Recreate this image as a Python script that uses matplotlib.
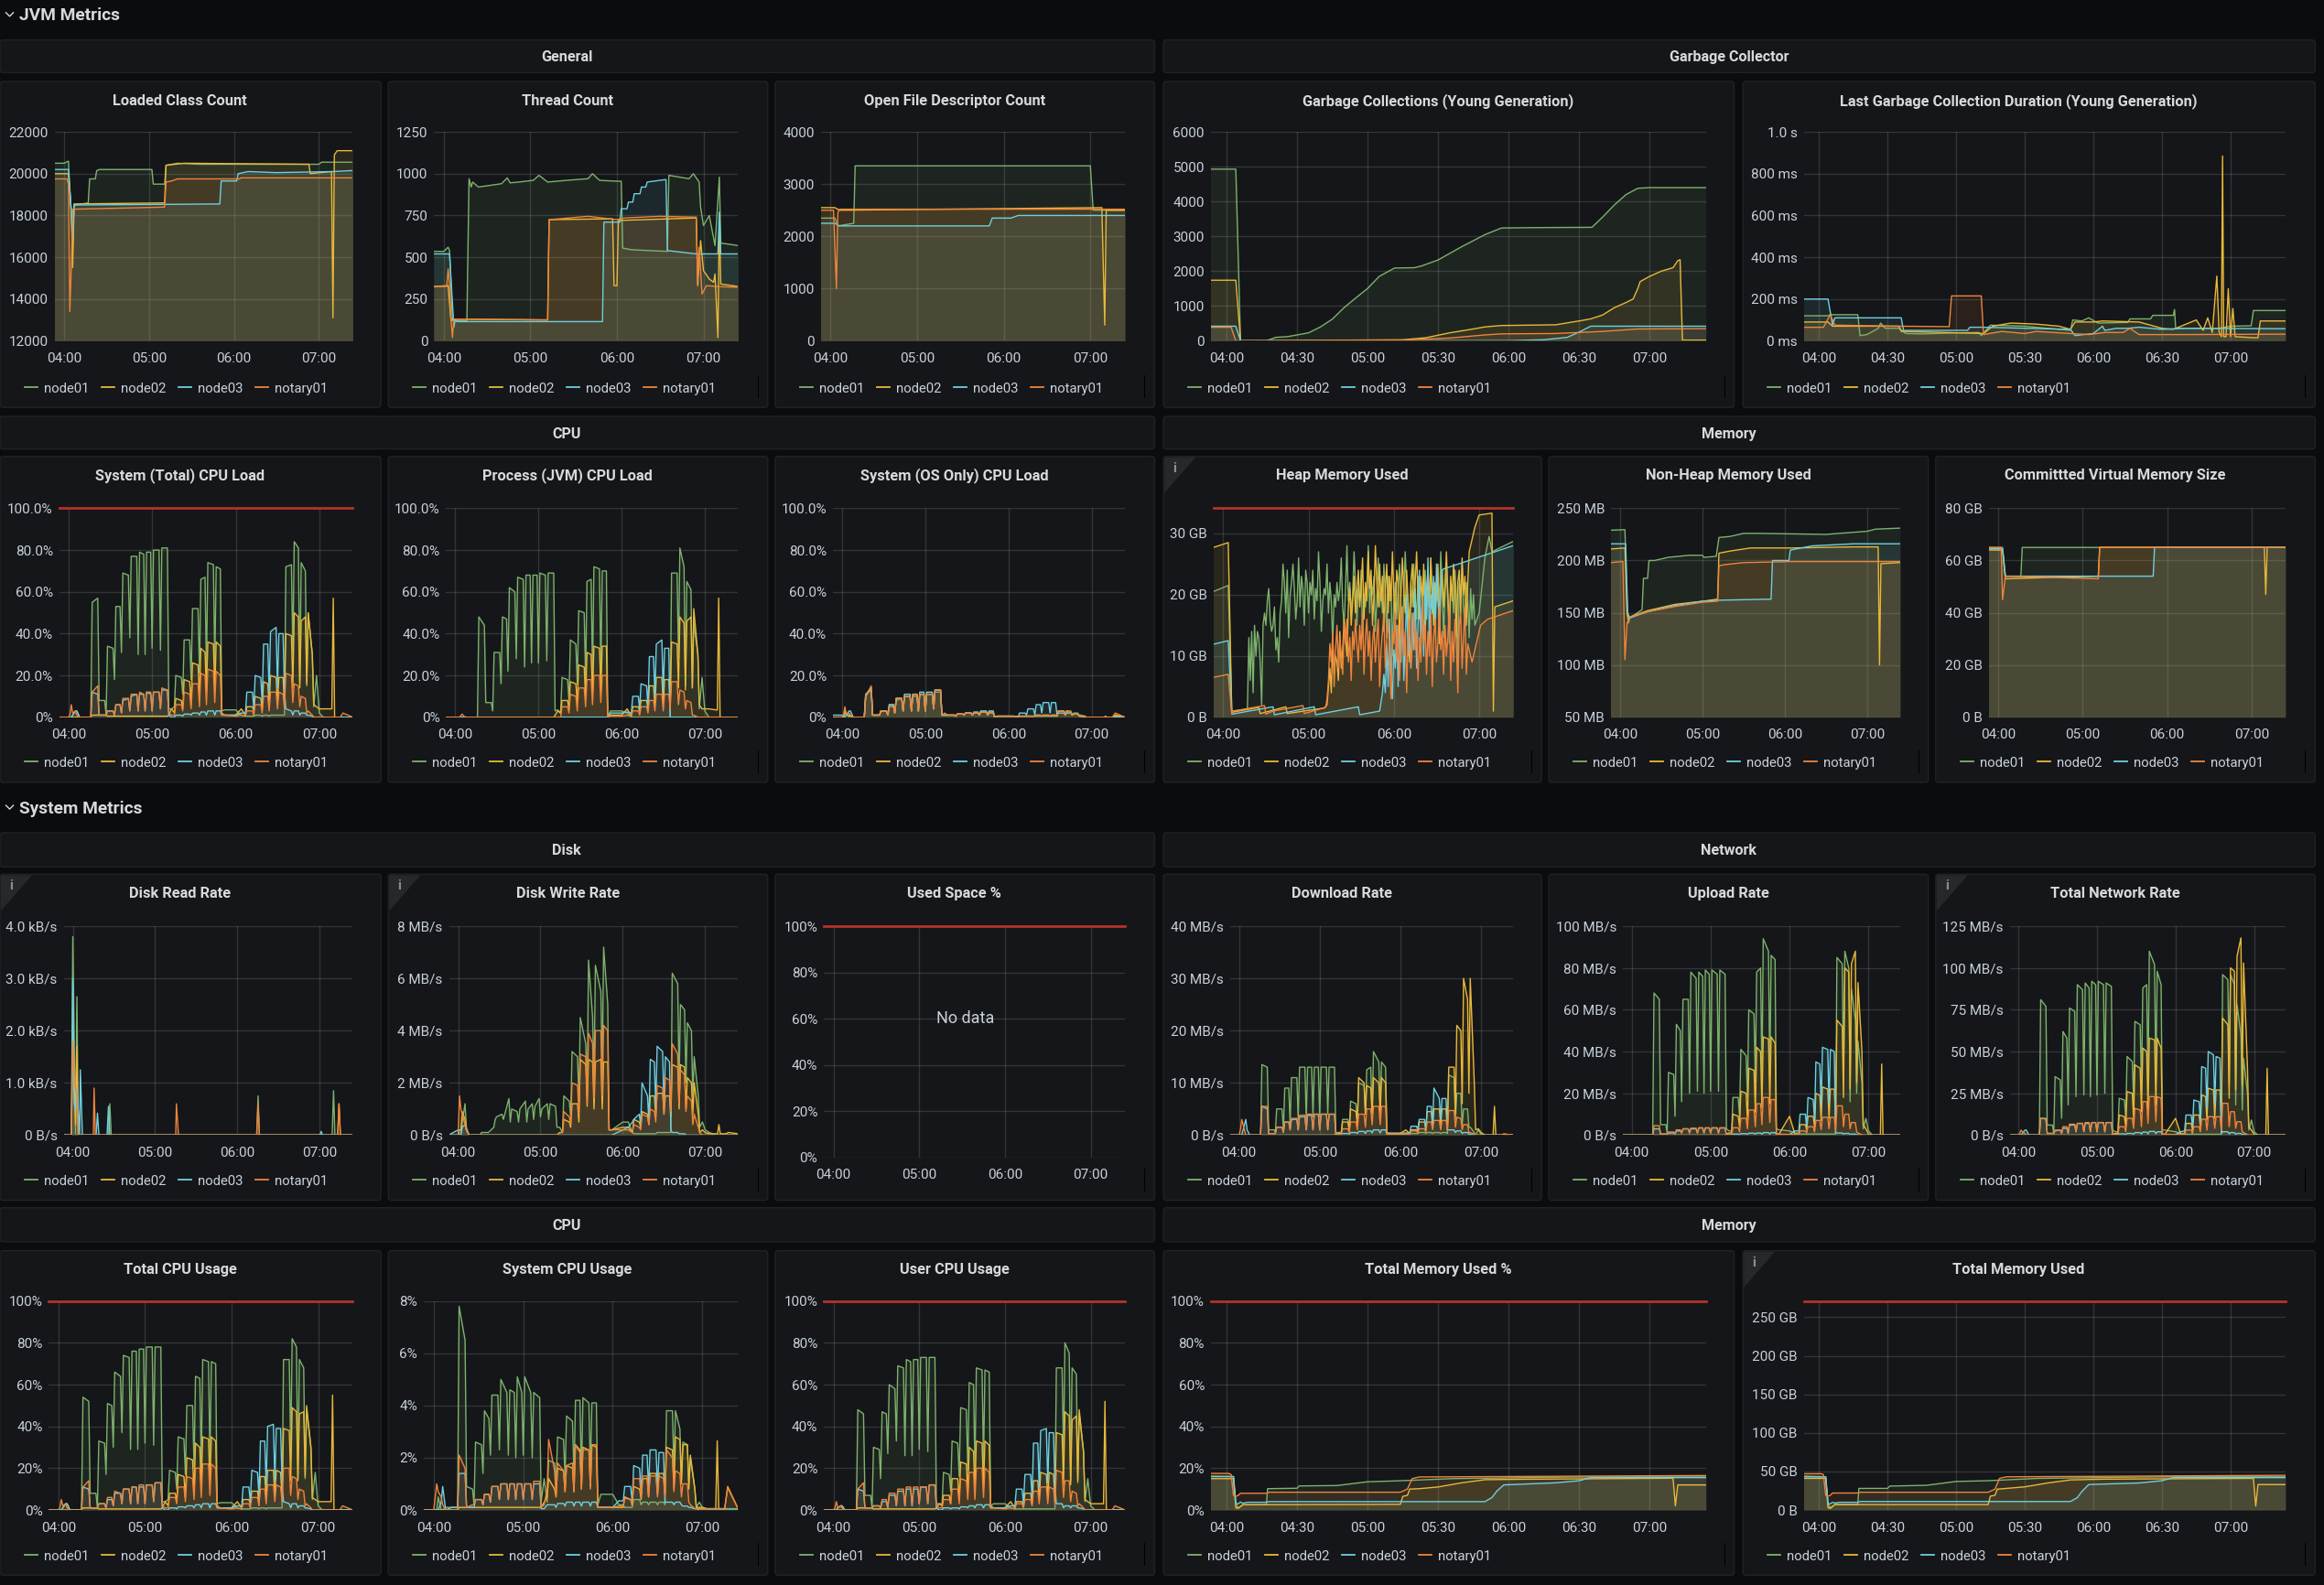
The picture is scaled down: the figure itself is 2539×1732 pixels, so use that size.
import matplotlib
matplotlib.use("Agg")
import matplotlib.pyplot as plt
from matplotlib.patches import FancyBboxPatch, Polygon

plt.rcParams['font.family'] = ['Roboto', 'DejaVu Sans']

W, H = 2539, 1732
S = W / 1568.0   # layout below was measured on a 1568 wide view

GREEN, YELLOW, BLUE, ORANGE = '#7eb26d', '#eab839', '#6ed0e0', '#ef843c'
names = ['node01', 'node02', 'node03', 'notary01']
colors = [GREEN, YELLOW, BLUE, ORANGE]

# minutes after 04:00, common to all panels driven by the load test
load_t = [-7, 0, 1, 2, 3, 5, 6, 8, 12, 16,
          17, 21, 22, 26, 27,
          28, 32, 33, 34, 37, 38, 39, 43, 44, 45, 49, 50, 51, 54, 55, 56, 59, 60, 61, 65, 66, 67, 71, 72,
          74, 76,
          77, 81, 82, 83, 87, 88, 89, 93, 94, 95, 98, 99, 100, 104, 105, 106, 109, 110,
          112, 120, 124, 127,
          128, 132, 133, 134, 138, 139, 140, 143, 144, 145, 149, 150, 151, 154, 155, 156, 160, 161, 162, 165, 166, 167, 170, 171, 172, 175, 176,
          178, 180, 183, 188, 189, 190, 191, 195, 197, 204]

# System (Total) CPU Load
sysload_node01 = [0, 0, 0, 0, 1, 3, 3, 0, 0, 0,
                  55, 57, 8, 8, 1,
                  34, 33, 18, 53, 53, 31, 69, 68, 38, 77, 77, 30, 79, 78, 30, 79, 79, 33, 80, 80, 32, 81, 81, 4,
                  4, 5,
                  20, 19, 11, 37, 37, 18, 52, 52, 21, 66, 67, 22, 74, 73, 25, 72, 71, 3,
                  3.5, 3.5, 1, 0.5,
                  0.5, 0.5, 0.5, 1, 1, 0.5, 1, 1, 0.5, 1, 1, 1, 1, 1, 1, 72, 73, 30, 84, 81, 16, 74, 70, 15, 50, 30, 5,
                  20, 2, 0, 0, 0, 0, 0, 0, 0, 0]
sysload_node02 = [0, 0, 0, 0, 0, 0, 0, 0, 0, 0,
                  1, 1, 1, 1, 1,
                  0.5, 0.5, 0.5, 0.5, 0.5, 0.5, 0.5, 0.5, 0.5, 0.5, 0.5, 0.5, 0.5, 0.5, 0.5, 0.5, 0.5, 0.5, 0.5, 0.5, 0.5, 0.5, 0.5, 1,
                  4, 2,
                  9, 8, 4, 18, 17, 6, 26, 25, 9, 33, 31, 12, 36, 35, 13, 36, 34, 2,
                  1, 1, 4, 1,
                  5, 5, 3, 10, 9, 4, 17, 16, 6, 20, 19, 7, 19, 19, 6, 40, 39, 14, 50, 48, 14, 46, 48, 16, 50, 30, 6,
                  5, 4, 4, 4, 4, 57, 0, 0, 0, 0]
sysload_node03 = [0, 0, 0, 0, 1, 3, 3, 0, 0, 0,
                  12, 11, 1, 1, 1,
                  3, 3, 1, 6, 6, 2, 8, 9, 3, 10, 11, 3, 11, 11, 3, 12, 11, 3, 12, 12, 4, 13, 13, 1,
                  0, 0,
                  1, 1, 0.5, 1.5, 1.5, 1, 2, 2, 1, 2.5, 2.5, 1, 3, 3, 1, 3, 3, 1,
                  1, 1, 2, 2,
                  12, 12, 4, 20, 19, 7, 35, 35, 12, 41, 43, 14, 40, 40, 13, 4, 3, 1, 3, 3, 1, 2, 2, 1, 1, 0.5, 0,
                  0, 0, 0, 0, 0, 0, 0, 0, 0, 0]
sysload_notary = [0, 0, 1, 6, 2, 3, 1, 0, 0, 0,
                  12, 15, 1, 1, 1,
                  3, 3, 1, 6, 6, 2, 9, 9, 3, 11, 11, 3, 12, 11, 3, 12, 12, 3, 12, 12, 4, 14, 13, 2,
                  1, 1,
                  6, 6, 3, 12, 11, 4, 16, 16, 5, 21, 20, 6, 23, 22, 7, 22, 20, 1,
                  1, 0.5, 1, 0.5,
                  3, 3, 1, 6, 6, 2, 10, 10, 3, 12, 12, 4, 12, 11, 4, 21, 20, 7, 16, 15, 5, 10, 9, 2, 3, 1, 0,
                  0, 0, 0, 0, 0, 0, 0, 0, 2, 0]

# Process (JVM) CPU Load
jvmload_node01 = [0, 0, 0, 0, 0, 0, 0, 0, 0, 0,
                  48, 44, 7, 7, 3,
                  31, 31, 16, 48, 47, 22, 62, 60, 28, 67, 66, 24, 68, 68, 26, 68, 68, 26, 69, 68, 27, 69, 69, 3,
                  3.5, 2,
                  19, 18, 8, 37, 35, 16, 51, 50, 18, 65, 66, 20, 72, 71, 22, 70, 70, 0,
                  3, 3, 2, 0,
                  0, 0, 0, 0, 0, 0, 0, 0, 0, 0, 0, 0, 0, 0, 0, 69, 69, 28, 81, 72, 15, 65, 61, 14, 45, 30, 4,
                  19, 3, 0, 0, 0, 0, 0, 0, 0, 0]
jvmload_node02 = [0, 0, 0, 0, 0, 0, 0, 0, 0, 0,
                  0, 0, 0, 0, 0,
                  0, 0, 0, 0, 0, 0, 0, 0, 0, 0, 0, 0, 0, 0, 0, 0, 0, 0, 0, 0, 0, 0, 0, 1,
                  3, 2,
                  8, 8, 4, 17, 16, 7, 25, 24, 9, 31, 30, 11, 34, 33, 13, 34, 34, 0,
                  1, 1, 4, 0.5,
                  5, 5, 3, 8, 8, 4, 15, 15, 5, 19, 19, 6, 18, 18, 6, 36, 35, 14, 48, 45, 13, 46, 48, 14, 52, 30, 6,
                  4, 4, 4, 3.5, 3.5, 57, 0, 0, 0, 0]
jvmload_node03 = [0, 0, 0, 0, 0, 0, 0, 0, 0, 0,
                  0, 0, 0, 0, 0,
                  0, 0, 0, 0, 0, 0, 0, 0, 0, 0, 0, 0, 0, 0, 0, 0, 0, 0, 0, 0, 0, 0, 0, 0,
                  0, 0,
                  0, 0, 0, 0, 0, 0, 0, 0, 0, 0, 0, 0, 0, 0, 0, 0, 0, 0,
                  2, 2, 2.5, 2,
                  10, 10, 4, 16, 15, 5, 29, 29, 10, 35, 37, 12, 33, 33, 0, 0, 0, 0, 0, 0, 0, 0, 0, 0, 0, 0, 0,
                  0, 0, 0, 0, 0, 0, 0, 0, 0, 0]
jvmload_notary = [0, 0, 0, 0, 0, 1.5, 0.5, 0, 0, 0,
                  0, 0, 0, 0, 0,
                  0, 0, 0, 0, 0, 0, 0, 0, 0, 0, 0, 0, 0, 0, 0, 0, 0, 0, 0, 0, 0, 0, 0, 0,
                  0, 0,
                  5, 5, 2, 11, 10, 3, 14, 14, 5, 18, 18, 6, 20, 20, 7, 20, 20, 0,
                  0.5, 0.5, 1, 0.5,
                  3, 3, 1, 5, 5, 2, 8, 8, 3, 11, 11, 3, 11, 11, 4, 17, 17, 6, 13, 12, 4, 8, 7, 1, 1, 0, 0,
                  0, 0, 0, 0, 0, 0, 0, 0, 0, 0]

# System (OS Only) CPU Load
osload_node01 = [0, 0, 0, 2, 2, 0, 1, 0, 0, 0,
                 11, 14, 1, 1, 1,
                 3, 3, 1, 6, 6, 2, 8, 9, 3, 10, 10, 3, 10, 10, 3, 11, 11, 3, 11, 11, 4, 12, 12, 1,
                 1, 1,
                 1, 1, 0.5, 1.5, 1.5, 1, 2, 2, 1, 2, 2, 1, 2.5, 2.5, 1, 2.5, 2.5, 0,
                 0.5, 0.5, 0.5, 0.2,
                 0.5, 0.5, 0.5, 0.5, 0.5, 0.5, 0.5, 0.5, 0.5, 0.5, 0.5, 0.5, 0.5, 0.5, 0.5, 3, 3, 1, 3, 3, 1, 2, 2, 1, 1, 0.5, 0,
                 0, 0, 0, 0, 0, 0, 0, 0, 0.5, 0]
osload_node02 = [0, 0, 0, 3, 1, 1, 0.5, 0, 0, 0,
                 10, 14, 1, 1, 1,
                 3, 3, 1, 5, 5, 2, 9, 9, 3, 10, 10, 3, 11, 11, 3, 11, 11, 3, 11, 11, 4, 13, 13, 1,
                 1, 1,
                 1, 1, 0.5, 1.5, 1.5, 1, 2, 2, 1, 2, 2, 1, 2.5, 2.5, 1, 2, 2, 0,
                 0.5, 0.5, 0.5, 0.2,
                 0.5, 0.5, 0.5, 0.5, 0.5, 0.5, 1, 1, 0.5, 1, 1, 0.5, 1, 1, 0.5, 3, 3, 1, 3, 2, 1, 1.5, 1.5, 0.5, 0.5, 0.5, 0,
                 0, 0, 0, 0, 0, 0.5, 0, 0, 1, 0]
osload_node03 = [1, 1, 0, 0, 1, 3, 3, 0, 0, 0,
                 11, 13, 1, 1, 1,
                 3, 3, 1, 6, 6, 2, 9, 9, 3, 11, 11, 3, 11, 11, 3, 12, 12, 3, 12, 12, 4, 13, 13, 1,
                 1, 1,
                 1, 1, 0.5, 1.5, 1.5, 1, 2, 2, 1, 2.5, 2.5, 1, 3, 3, 1, 3, 3, 0,
                 0.5, 0.5, 0.5, 0.2,
                 2, 2, 1, 4, 4, 1, 6, 6, 2, 7, 7, 2, 7, 7, 1, 2, 2, 1, 2, 2, 1, 1.5, 1.5, 0.5, 0.5, 0, 0,
                 0, 0, 0, 0, 0, 0, 0, 0, 0, 0]
osload_notary = [0, 0, 1, 5, 1.5, 2, 1, 0, 0, 0,
                 10, 15, 1, 1, 1,
                 3, 3, 1, 5, 5, 2, 9, 9, 3, 10, 10, 3, 11, 11, 3, 11, 11, 3, 11, 11, 4, 13, 13, 1,
                 2, 1,
                 1, 1, 0.5, 1.5, 1.5, 1, 2, 2, 1, 2, 2, 1, 2.5, 2.5, 1, 2, 2, 0,
                 0.5, 0.5, 0.5, 0.2,
                 0.5, 0.5, 0.5, 0.5, 0.5, 0.5, 1, 1, 0.5, 1, 1, 0.5, 1, 1, 0.5, 3, 3, 1, 3, 2, 1, 1.5, 1.5, 0.5, 0.5, 0.5, 0,
                 0, 0, 0, 0, 0, 0, 0, 0, 2, 0]

# Disk Write Rate
dwrite_node01 = [0, 0, 0, 0, 0.5, 1.2, 0.3, 0, 0, 0,
                 0.1, 0.1, 0.1, 0.3, 0.6,
                 0.7, 0.8, 0.6, 0.8, 1.4, 0.5, 1, 0.9, 0.5, 1, 1.3, 0.5, 1, 1.2, 0.6, 1.1, 1.4, 0.7, 1, 1.2, 0.6, 1.2, 1.1, 0.3,
                 0.3, 0.1,
                 1.5, 1.3, 0.7, 3.2, 3, 1.3, 4.5, 3.5, 1.5, 6.7, 4.5, 2, 6.5, 5.5, 2.5, 7.2, 5, 0.2,
                 0.2, 0.5, 0.5, 0.1,
                 0.05, 0.05, 0.05, 0.05, 0.05, 0.05, 0.05, 0.05, 0.05, 0.1, 0.1, 0.1, 0.1, 0.1, 0.1, 6.2, 5.8, 2, 5, 4.8, 2, 4.3, 4, 1.5, 3, 1.5, 0.3,
                 0.5, 0.2, 0.1, 0, 0, 0, 0, 0, 0, 0]
dwrite_node02 = [0, 0, 0.2, 0.2, 0.9, 0.6, 0.2, 0, 0, 0,
                 0, 0, 0, 0, 0,
                 0, 0, 0, 0, 0, 0, 0, 0, 0, 0, 0, 0, 0, 0, 0, 0, 0, 0, 0, 0, 0, 0, 0, 0,
                 0.1, 0.1,
                 0.6, 0.5, 0.3, 1.2, 1.2, 0.5, 2.9, 2.7, 1.1, 2.9, 2.8, 1, 2.8, 2.9, 1, 2.8, 2.8, 0.2,
                 0.2, 0.3, 0.3, 0.1,
                 0.6, 0.5, 0.3, 0.9, 0.8, 0.4, 1.5, 1.5, 0.7, 1.6, 1.6, 0.8, 1.5, 1.5, 0.7, 2.7, 2.6, 1, 2.7, 2.6, 1, 2.2, 2, 0.8, 2, 0.8, 0.1,
                 0.2, 0.1, 0.05, 0.05, 0.05, 0.4, 0.05, 0.05, 0.1, 0.05]
dwrite_node03 = [0, 0.2, 0, 0, 0.3, 0.4, 0.2, 0, 0, 0,
                 0, 0, 0, 0, 0,
                 0, 0, 0, 0, 0, 0, 0, 0, 0, 0, 0, 0, 0, 0, 0, 0, 0, 0, 0, 0, 0, 0, 0, 0,
                 0, 0,
                 0, 0, 0, 0, 0, 0, 0, 0, 0, 0, 0, 0, 0, 0, 0, 0, 0, 0,
                 0, 0.2, 0.3, 0.5,
                 0.6, 0.8, 0.4, 2, 1.5, 0.5, 2.9, 2.8, 1, 3.4, 3.2, 1, 3, 2.8, 0.2, 0.1, 0.1, 0.05, 0.05, 0.05, 0, 0, 0, 0, 0, 0, 0,
                 0, 0, 0, 0, 0, 0, 0, 0, 0, 0]
dwrite_notary = [0, 0, 1.5, 1, 0.8, 0.4, 0.2, 0, 0, 0,
                 0, 0, 0, 0, 0,
                 0, 0, 0, 0, 0, 0, 0, 0, 0, 0, 0, 0, 0, 0, 0, 0, 0, 0, 0, 0, 0, 0, 0, 0,
                 0.1, 0.1,
                 0.9, 0.7, 0.4, 2, 1.9, 0.8, 3.1, 3, 1.2, 3.9, 3.5, 1.4, 4, 4, 1.5, 4.2, 4, 0.2,
                 0.2, 0.2, 0.2, 0.1,
                 0.4, 0.3, 0.2, 0.8, 0.7, 0.4, 1, 0.9, 0.5, 1.9, 1.8, 0.8, 2.2, 2.1, 0.9, 3.5, 3.1, 1.2, 2.5, 2.3, 0.9, 1.5, 1.3, 0.4, 0.8, 0.3, 0.1,
                 0, 0, 0, 0, 0, 0, 0, 0, 0, 0]

# Download Rate
down_node01 = [0, 0, 0, 0, 0, 0, 0, 0, 0, 0,
               13.5, 13, 1, 1, 0.5,
               5, 5, 1, 9, 9, 2, 11, 11, 3, 13, 13, 3, 13, 13, 3.5, 13, 13, 3.5, 13, 13, 4, 13, 13, 0.5,
               0.5, 0.5,
               3, 3, 1, 6.5, 6, 2.5, 10, 9.5, 4, 12.5, 13, 4, 16, 14, 5, 14, 13, 0.5,
               0.4, 0.4, 0.4, 0.3,
               0.3, 0.3, 0.3, 0.5, 0.5, 0.3, 0.5, 0.5, 0.3, 0.5, 0.5, 0.3, 0.5, 0.5, 0.3, 11.5, 11, 3, 8, 8, 2, 5, 5, 1.5, 1.5, 0.5, 0,
               1, 0.2, 0, 0, 0, 0, 0, 0, 0, 0]
down_node02 = [0, 0, 0, 0, 0, 0, 0, 0, 0, 0,
               0, 0, 0, 0, 0,
               0, 0, 0, 0, 0, 0, 0, 0, 0, 0, 0, 0, 0, 0, 0, 0, 0, 0, 0, 0, 0, 0, 0, 0.2,
               0.3, 0.3,
               2.5, 2.5, 1, 5, 4.5, 2, 11, 10, 4, 9.5, 9, 4, 11, 10, 4, 11, 10, 0.3,
               0.3, 0.3, 1, 0.3,
               1, 1, 0.5, 2.5, 2.5, 1, 4.5, 4.5, 1.5, 5, 5, 2, 5, 5, 1, 13, 13, 4, 21, 20, 6, 30, 26, 8, 30, 10, 1,
               1.2, 0.5, 0, 0, 0, 5.5, 0, 0, 0.2, 0]
down_node03 = [0, 0, 0, 0, 1, 3, 1, 0, 0, 0,
               5.5, 5, 0.3, 0.3, 0.3,
               1.5, 1.5, 0.5, 2.5, 2.5, 1, 3, 3, 1, 3.5, 3.5, 1, 3.8, 3.8, 1, 4, 4, 1, 4, 4, 1, 4, 4, 0.2,
               0.2, 0.2,
               0.3, 0.3, 0.2, 0.5, 0.5, 0.3, 0.7, 0.7, 0.3, 0.8, 0.8, 0.4, 1, 1, 0.4, 1, 1, 0.2,
               0.2, 0.2, 0.3, 0.5,
               1.7, 1.7, 1, 3, 3, 1, 5.5, 5.5, 2, 9, 7, 3, 7, 7, 1, 1, 1, 0.5, 0.8, 0.8, 0.3, 0.5, 0.5, 0.2, 0.2, 0, 0,
               0, 0, 0, 0, 0, 0, 0, 0, 0, 0]
down_notary = [0, 0, 1, 3, 2, 0, 0, 0, 0, 0,
               5.5, 5.5, 0.3, 0.3, 0.3,
               1.5, 1.5, 0.5, 2.5, 2.5, 1, 3.2, 3.2, 1, 3.8, 3.8, 1, 4, 4, 1, 4, 4, 1, 4, 4, 1, 4, 4, 0.2,
               0.2, 0.2,
               1.2, 1.2, 0.5, 2.5, 2.5, 1, 4, 4, 1.5, 5, 5, 2, 5.5, 5.5, 2, 5.5, 5.5, 0.2,
               0.2, 0.2, 0.2, 0.2,
               0.8, 0.8, 0.4, 1.2, 1.2, 0.6, 2.5, 2.5, 1, 2.8, 2.8, 1, 2.8, 2.8, 1, 4.7, 4.7, 1.5, 3.4, 3.2, 1, 2, 2, 0.5, 0.5, 0.2, 0,
               0, 0, 0, 0, 0, 0, 0, 0, 0.2, 0]

# Upload Rate
up_node01 = [0, 0, 0, 0, 0, 0, 0, 0, 0, 0,
             68, 65, 5, 5, 1,
             30, 29, 9, 53, 50, 16, 65, 65, 20, 78, 75, 21, 78, 76, 20, 79, 77, 21, 79, 77, 21, 79, 77, 3,
             2, 2,
             18, 18, 9, 41, 38, 18, 60, 58, 25, 78, 80, 26, 94, 88, 28, 86, 84, 3,
             2.5, 2, 1, 1,
             0.5, 0.5, 0.5, 0.5, 0.5, 0.5, 0.5, 0.5, 0.5, 0.5, 0.5, 0.5, 0.5, 0.5, 0.5, 85, 82, 28, 88, 80, 16, 70, 55, 20, 45, 25, 3,
             8, 2, 0, 0, 0, 0, 0, 0, 0, 0]
up_node02 = [0, 0, 0, 0, 0, 0, 0, 0, 0, 0,
             0, 0, 0, 0, 0,
             0, 0, 0, 0, 0, 0, 0, 0, 0, 0, 0, 0, 0, 0, 0, 0, 0, 0, 0, 0, 0, 0, 0, 0.5,
             1, 1,
             10, 9, 4, 21, 20, 7, 32, 31, 11, 42, 40, 13, 47, 46, 15, 47, 44, 0.5,
             0.5, 9, 0.5, 0.5,
             5, 5, 2.5, 9, 9, 4, 20, 19, 7, 23, 22, 8, 22, 22, 7, 55, 52, 18, 80, 78, 22, 82, 88, 25, 73, 40, 5,
             3, 0.5, 0, 0, 0, 34, 0, 0, 0, 0]
up_node03 = [0, 0, 0, 0, 0, 0, 0, 0, 0, 0,
             3, 3, 0.5, 0.5, 0.5,
             1, 1, 0.5, 2, 2, 1, 3, 3, 1, 3, 3, 1, 3.4, 3.4, 1, 3.4, 3.4, 1, 3.4, 3.4, 1, 3.4, 3.4, 0.2,
             0.2, 0.2,
             0.5, 0.5, 0.3, 0.7, 0.7, 0.3, 0.9, 0.9, 0.4, 1, 1, 0.4, 1.2, 1.2, 0.5, 1.2, 1.2, 0.3,
             0.3, 0.3, 2, 2,
             10, 10, 4, 18, 17, 7, 35, 34, 14, 42, 41, 15, 41, 40, 1, 1, 1, 0.5, 0.8, 0.8, 0.3, 0.5, 0.5, 0.2, 0.2, 0, 0,
             0, 0, 0, 0, 0, 0, 0, 0, 0, 0]
up_notary = [0, 0, 0, 0, 0, 0, 0, 0, 0, 0,
             4.5, 4.5, 0.5, 0.5, 0.5,
             1.5, 1.5, 0.7, 2.5, 2.5, 1, 3, 3, 1, 3.3, 3.3, 1, 3.5, 3.5, 1, 3.5, 3.5, 1, 3.5, 3.5, 1, 3.5, 3.5, 0.2,
             0.2, 0.2,
             3.5, 3.5, 1.5, 8, 8, 3, 12, 12, 4, 15, 15, 5, 18, 18, 6, 17, 17, 0.5,
             0.5, 0.3, 0.3, 0.3,
             2, 2, 1, 4, 4, 1.5, 7, 7, 2.5, 8.5, 8.5, 3, 8.5, 8.5, 2, 14, 14, 4, 10, 10, 3, 6, 6, 1.5, 1, 0.2, 0,
             0, 0, 0, 0, 0, 0, 0, 0, 0, 0]

# Total Network Rate
net_node01 = [0, 0, 0, 0, 0, 0, 0, 0, 0, 0,
              81, 77, 6, 6, 1,
              35, 33, 10, 62, 58, 18, 76, 74, 23, 90, 87, 24, 91, 88, 23, 92, 90, 24, 92, 90, 25, 91, 89, 3,
              2, 2,
              22, 21, 10, 47, 44, 20, 68, 66, 28, 88, 90, 30, 110, 102, 32, 98, 90, 3,
              3, 2, 1, 1,
              0.5, 0.5, 0.5, 0.5, 0.5, 0.5, 0.5, 0.5, 0.5, 0.5, 0.5, 0.5, 0.5, 0.5, 0.5, 96, 93, 30, 96, 90, 18, 78, 60, 15, 46, 25, 3,
              9, 2, 0, 0, 0, 0, 0, 0, 0, 0]
net_node02 = [0, 0, 0, 0, 0, 0, 0, 0, 0, 0,
              0, 0, 0, 0, 0,
              0, 0, 0, 0, 0, 0, 0, 0, 0, 0, 0, 0, 0, 0, 0, 0, 0, 0, 0, 0, 0, 0, 0, 0.5,
              1, 1,
              12, 11, 5, 26, 25, 9, 42, 40, 14, 52, 50, 15, 58, 57, 18, 58, 52, 0.5,
              0.5, 10, 0.5, 0.5,
              7, 7, 3, 12, 12, 5, 24, 23, 9, 28, 27, 10, 27, 27, 8, 70, 66, 22, 100, 98, 27, 107, 118, 30, 103, 40, 5,
              3, 0.5, 0, 0, 0, 40, 0, 0, 0, 0]
net_node03 = [0, 0, 0, 0, 1, 3, 3, 0, 0, 0,
              10, 10, 1, 1, 1,
              2.5, 3, 1, 4, 4, 1, 6, 6, 2, 7, 7, 2, 7, 7, 2, 7.5, 7.5, 2, 7.5, 7.5, 2, 7.5, 7.5, 0.3,
              0.3, 0.3,
              0.7, 0.7, 0.4, 1, 1, 0.5, 1.5, 1.5, 0.6, 1.8, 1.8, 0.7, 2.2, 2.2, 0.8, 2, 2, 0.3,
              0.3, 0.3, 2, 2.5,
              12, 12, 5, 21, 20, 8, 41, 40, 16, 50, 48, 18, 47, 46, 1, 2, 2, 0.7, 1.5, 1.5, 0.5, 1, 1, 0.3, 0.5, 0, 0,
              0, 0, 0, 0, 0, 0, 0, 0, 0, 0]
net_notary = [0, 0, 1, 3, 2, 1, 0, 0, 0, 0,
              10, 9.5, 1, 1, 1,
              3, 3, 1, 5, 5, 1.5, 6.5, 6.5, 2, 7, 7, 2, 7.5, 7.5, 2, 7.5, 7.5, 2, 7.5, 7.5, 2, 7.5, 7.5, 0.3,
              0.3, 0.3,
              5, 5, 2, 10, 10, 4, 16, 15, 5, 20, 20, 7, 23, 23, 8, 23, 22, 0.5,
              0.5, 0.3, 0.3, 0.3,
              3, 3, 1, 5, 5, 2, 9.5, 9.5, 3, 11, 11, 4, 11, 11, 3, 19, 19, 5, 14, 14, 4, 8, 8, 2, 1.5, 0.3, 0,
              0, 0, 0, 0, 0, 0, 0, 0, 0, 0]

# Total CPU Usage
totcpu_node01 = [0, 0, 0, 0, 1, 3, 3, 0, 0, 0,
                 54, 52, 8, 8, 1,
                 33, 32, 17, 51, 50, 30, 66, 64, 37, 74, 73, 29, 76, 76, 29, 77, 77, 32, 78, 78, 31, 78, 78, 4,
                 4, 5,
                 19, 18, 10, 35, 34, 17, 50, 50, 20, 64, 63, 21, 72, 71, 24, 71, 70, 3,
                 3.5, 3.5, 1, 0.5,
                 0.5, 0.5, 0.5, 1, 1, 0.5, 1, 1, 0.5, 1, 1, 1, 1, 1, 1, 72, 72, 28, 82, 78, 15, 72, 68, 15, 48, 30, 5,
                 18, 2, 0, 0, 0, 0, 0, 0, 0, 0]
totcpu_node02 = [0, 0, 0, 0, 0, 0, 0, 0, 0, 0,
                 1, 1, 1, 1, 1,
                 0.5, 0.5, 0.5, 0.5, 0.5, 0.5, 0.5, 0.5, 0.5, 0.5, 0.5, 0.5, 0.5, 0.5, 0.5, 0.5, 0.5, 0.5, 0.5, 0.5, 0.5, 0.5, 0.5, 1,
                 4, 2,
                 8, 8, 4, 17, 16, 6, 25, 24, 8, 32, 30, 11, 35, 34, 13, 35, 33, 2,
                 1, 1, 4, 1,
                 5, 5, 3, 9, 9, 4, 16, 16, 6, 19, 19, 7, 19, 18, 6, 39, 38, 14, 49, 47, 14, 46, 47, 16, 50, 30, 6,
                 5, 4, 4, 4, 4, 55, 0, 0, 0, 0]
totcpu_node03 = [0, 0, 0, 0, 1, 3, 3, 0, 0, 0,
                 11, 10, 1, 1, 1,
                 3, 3, 1, 5, 5, 2, 8, 8, 3, 10, 10, 3, 11, 11, 3, 11, 11, 3, 12, 12, 4, 13, 13, 1,
                 0, 0,
                 1, 1, 0.5, 1.5, 1.5, 1, 2, 2, 1, 2.5, 2.5, 1, 3, 3, 1, 3, 3, 1,
                 1, 1, 2, 2,
                 11, 11, 4, 19, 18, 7, 33, 33, 12, 40, 41, 14, 39, 39, 13, 4, 3, 1, 3, 3, 1, 2, 2, 1, 1, 0.5, 0,
                 0, 0, 0, 0, 0, 0, 0, 0, 0, 0]
totcpu_notary = [0, 0, 1, 5, 2, 3, 1, 0, 0, 0,
                 11, 14, 1, 1, 1,
                 3, 3, 1, 6, 6, 2, 9, 8, 3, 10, 10, 3, 11, 11, 3, 12, 12, 3, 12, 12, 4, 13, 13, 2,
                 1, 1,
                 6, 6, 3, 11, 11, 4, 16, 15, 5, 20, 20, 6, 22, 22, 7, 22, 20, 1,
                 1, 0.5, 1, 0.5,
                 3, 3, 1, 6, 6, 2, 10, 10, 3, 12, 12, 4, 12, 11, 4, 20, 20, 7, 16, 15, 5, 10, 9, 2, 3, 1, 0,
                 0, 0, 0, 0, 0, 0, 0, 0, 2, 0]

# System CPU Usage
syscpu_node01 = [0, 0, 0, 0, 0.5, 0, 0, 0.1, 0.1, 0.1,
                 7.8, 6.5, 0.9, 0.8, 0.2,
                 2.6, 2.5, 1.4, 3.8, 3.5, 2.1, 4.4, 4.4, 2.3, 5, 4.5, 2.1, 4.6, 4.5, 2, 5.1, 4.5, 2.1, 5.1, 4.5, 2, 4.5, 4.3, 0.3,
                 1.2, 0.3,
                 1.9, 1.8, 1, 2.8, 2.7, 1.3, 3.6, 3.4, 1.3, 4.2, 4.2, 1.3, 4.3, 4.1, 1.4, 4.1, 4.1, 0.2,
                 0.6, 0.6, 0.2, 0.2,
                 0.1, 0.1, 0.1, 0.4, 0.4, 0.2, 0.3, 0.3, 0.2, 0.3, 0.3, 0.2, 0.3, 0.3, 0.2, 3.8, 3.8, 1.5, 3.8, 3.1, 1.2, 2.6, 2.5, 1, 2, 0.8, 0.1,
                 0.3, 0.1, 0.05, 0.05, 0.05, 0.05, 0.05, 0.05, 0.05, 0.05]
syscpu_node02 = [0, 0, 0, 0, 0, 0, 0, 0, 0, 0,
                 0.1, 0.1, 0.1, 0.1, 0.1,
                 0.1, 0.1, 0.1, 0.1, 0.1, 0.1, 0.1, 0.1, 0.1, 0.1, 0.1, 0.1, 0.1, 0.1, 0.1, 0.1, 0.1, 0.1, 0.1, 0.1, 0.1, 0.1, 0.1, 0.1,
                 0.3, 0.5,
                 1.2, 0.8, 0.5, 1.6, 1.5, 0.7, 1.7, 1.6, 0.7, 2.5, 2.3, 0.8, 2.4, 2.3, 0.9, 2.5, 2.4, 0.1,
                 0.1, 0.1, 0.1, 0.1,
                 0.5, 0.4, 0.2, 0.9, 0.8, 0.4, 1.2, 1.2, 0.5, 1.4, 1.4, 0.6, 1.4, 1.4, 0.6, 2.4, 2.3, 0.8, 2.8, 2.7, 1, 2.5, 2.5, 0.8, 2.1, 0.8, 0.1,
                 0.1, 0.1, 0.05, 0.05, 0.05, 2.65, 0.05, 0.05, 0.9, 0.05]
syscpu_node03 = [0, 0, 0, 0, 0, 0.3, 0.9, 0, 0.1, 0.1,
                 1.4, 1.4, 0.1, 0.1, 0.1,
                 0.4, 0.4, 0.2, 0.6, 0.6, 0.3, 0.9, 0.9, 0.4, 1, 1, 0.4, 1, 1, 0.4, 1, 1, 0.4, 1, 1, 0.4, 1, 1, 0.05,
                 0.05, 0.2,
                 0.2, 0.2, 0.1, 0.25, 0.25, 0.15, 0.3, 0.3, 0.15, 0.3, 0.3, 0.15, 0.3, 0.3, 0.15, 0.3, 0.3, 0.1,
                 0.1, 0.1, 0.35, 0.35,
                 0.9, 0.9, 0.3, 1.7, 1.6, 0.6, 2.1, 2.1, 0.8, 2.3, 2.3, 0.8, 2.2, 2.2, 0.3, 0.3, 0.3, 0.2, 0.3, 0.3, 0.2, 0.15, 0.15, 0.1, 0.1, 0.05, 0.05,
                 0, 0, 0, 0, 0, 0, 0, 0, 0, 0]
syscpu_notary = [0, 0, 0.5, 1, 0.7, 0.5, 0.2, 0, 0, 0,
                 2.1, 1.6, 0.1, 0.2, 0.2,
                 0.4, 0.4, 0.2, 0.6, 0.6, 0.3, 0.9, 0.9, 0.4, 1, 1, 0.4, 1, 1, 0.4, 1, 1, 0.4, 1, 1, 0.4, 1.1, 1.1, 0.1,
                 0.2, 0.8,
                 2.7, 1.5, 0.5, 1.8, 1.5, 0.7, 1.7, 1.8, 0.7, 2.5, 2.2, 0.8, 2.3, 2.3, 0.8, 2.5, 2.5, 0.1,
                 0.1, 0.1, 0.15, 0.15,
                 0.45, 0.4, 0.15, 1.2, 1.2, 0.5, 1.3, 1.3, 0.5, 1.3, 1.3, 0.5, 1.3, 1.2, 0.5, 2.3, 2, 0.7, 1.5, 1.4, 0.5, 1, 1, 0.3, 0.2, 0.05, 0.05,
                 0.05, 0.05, 0.05, 0.05, 0.05, 0.05, 0.05, 0.05, 0.85, 0.05]

# User CPU Usage
usrcpu_node01 = [0, 0, 0, 0, 1, 2, 2, 0, 0, 0,
                 48, 46, 7, 7, 1,
                 30, 29, 15, 47, 46, 27, 60, 58, 33, 69, 68, 26, 72, 71, 26, 72, 72, 29, 73, 73, 28, 73, 73, 3,
                 3, 3,
                 18, 17, 9, 33, 32, 16, 49, 48, 19, 61, 60, 20, 68, 67, 22, 67, 66, 2,
                 3, 3, 1, 0.5,
                 0.5, 0.5, 0.5, 0.5, 0.5, 0.5, 0.5, 0.5, 0.5, 0.5, 0.5, 0.5, 0.5, 0.5, 0.5, 68, 68, 26, 80, 75, 14, 68, 65, 13, 46, 28, 4,
                 15, 2, 0, 0, 0, 0, 0, 0, 0, 0]
usrcpu_node02 = [0, 0, 0, 0, 0, 0, 0, 0, 0, 0,
                 1, 1, 1, 1, 1,
                 0.5, 0.5, 0.5, 0.5, 0.5, 0.5, 0.5, 0.5, 0.5, 0.5, 0.5, 0.5, 0.5, 0.5, 0.5, 0.5, 0.5, 0.5, 0.5, 0.5, 0.5, 0.5, 0.5, 1,
                 3, 2,
                 7, 7, 3, 15, 15, 5, 23, 22, 8, 30, 28, 10, 33, 32, 11, 33, 31, 2,
                 1, 1, 4, 1,
                 4, 4, 2, 8, 8, 3, 14, 14, 5, 18, 17, 6, 18, 17, 5, 37, 36, 12, 47, 45, 12, 43, 45, 14, 48, 28, 5,
                 4, 3, 3, 3, 3, 52, 0, 0, 0, 0]
usrcpu_node03 = [0, 0, 0, 0, 1, 2, 2, 0, 0, 0,
                 10, 9, 1, 1, 1,
                 2, 2, 1, 4, 4, 1, 7, 7, 2, 9, 9, 2, 10, 10, 2, 10, 10, 3, 11, 11, 3, 12, 12, 1,
                 0, 0,
                 1, 1, 0.5, 1, 1, 0.5, 1.5, 1.5, 1, 2, 2, 1, 2.5, 2.5, 1, 2.5, 2.5, 1,
                 1, 1, 2, 2,
                 10, 10, 3, 17, 17, 6, 32, 32, 11, 38, 39, 13, 37, 37, 11, 3, 3, 1, 2, 2, 1, 2, 2, 1, 1, 0.5, 0,
                 0, 0, 0, 0, 0, 0, 0, 0, 0, 0]
usrcpu_notary = [0, 0, 1, 4, 1, 2, 1, 0, 0, 0,
                 10, 13, 1, 1, 1,
                 2, 2, 1, 5, 5, 1, 8, 8, 2, 10, 10, 2, 11, 11, 2, 11, 11, 3, 11, 11, 3, 12, 12, 2,
                 1, 1,
                 5, 5, 3, 10, 10, 3, 15, 14, 5, 18, 18, 5, 20, 20, 6, 20, 18, 1,
                 1, 0.5, 1, 0.5,
                 3, 3, 1, 5, 5, 2, 9, 9, 3, 11, 11, 3, 11, 10, 3, 19, 18, 6, 14, 14, 4, 9, 8, 2, 3, 1, 0,
                 0, 0, 0, 0, 0, 0, 0, 0, 2, 0]

# Loaded Class Count (minute, value)
classes_node01 = [(-7, 20500), (0, 20500), (3, 20600), (5, 18000), (6, 16300), (7, 18500), (17, 18600), (18, 19750), (22, 19750), (23, 20150), (25, 20200), (62, 20200), (63, 19500), (71, 19500), (72, 20400), (80, 20500), (95, 20450), (180, 20450), (182, 20550), (204, 20550)]
classes_node02 = [(-7, 20000), (3, 20000), (5, 18300), (6, 15500), (7, 18550), (71, 18600), (72, 20400), (85, 20500), (173, 20450), (174, 20000), (189, 20100), (190, 13100), (191, 20900), (193, 21100), (204, 21100)]
classes_node03 = [(-7, 20200), (3, 20200), (5, 18200), (6, 17000), (7, 18500), (110, 18550), (111, 19650), (122, 19650), (123, 20000), (130, 20100), (150, 20050), (190, 20100), (204, 20150)]
classes_notary = [(-7, 19750), (2, 19750), (3, 19500), (4, 13400), (5, 15500), (6, 18300), (71, 18400), (72, 19600), (76, 19650), (80, 19750), (124, 19750), (125, 19800), (204, 19800)]

# Thread Count
threads_node01 = [(-7, 535), (0, 535), (3, 560), (4, 540), (6, 120), (16, 120), (17.5, 970), (19, 920), (20, 950), (24, 920), (40, 940), (44, 975), (46, 945), (52, 950), (62, 960), (66, 990), (72, 950), (85, 960), (100, 970), (103, 1000), (108, 960), (120, 955), (123, 955), (124, 555), (130, 545), (155, 535), (156, 990), (170, 970), (173, 1000), (177, 950), (178, 800), (180, 690), (184, 750), (188, 570), (191, 980), (192, 585), (204, 570)]
threads_node02 = [(-7, 325), (3, 330), (5, 120), (6, 130), (72, 125), (73, 725), (117, 730), (118, 330), (120, 330), (121, 720), (175, 735), (176, 330), (178, 600), (180, 420), (184, 370), (187, 350), (188, 400), (190, 20), (191, 760), (192, 340), (204, 325)]
threads_node03 = [(-7, 520), (4, 520), (7, 80), (8, 130), (9, 115), (110, 115), (111, 710), (122, 710), (123, 790), (127, 790), (128, 830), (131, 830), (132, 880), (136, 880), (137, 920), (140, 920), (141, 950), (154, 965), (155, 540), (175, 520), (190, 520), (191, 770), (192, 520), (204, 520)]
threads_notary = [(-7, 325), (2, 325), (3, 430), (4, 330), (5, 130), (6, 20), (7, 130), (72, 125), (73, 725), (80, 730), (100, 745), (120, 725), (125, 735), (150, 745), (175, 740), (176, 360), (177, 560), (179, 280), (182, 330), (190, 325), (204, 320)]

# Open File Descriptor Count
fds_node01 = [(-7, 2350), (3, 2350), (5, 2200), (16, 2250), (17, 3350), (180, 3350), (182, 2500), (204, 2500)]
fds_node02 = [(-7, 2550), (3, 2550), (6, 2500), (188, 2550), (190, 300), (191, 2500), (204, 2500)]
fds_node03 = [(-7, 2250), (3, 2250), (6, 2200), (110, 2200), (112, 2350), (125, 2350), (130, 2400), (175, 2400), (204, 2400)]
fds_notary = [(-7, 2500), (2, 2500), (4, 1000), (5, 2450), (6, 2520), (204, 2520)]

# Garbage Collections (Young Generation)
gc_node01 = [(-7, 4930), (4, 4930), (6, 0), (17, 0), (21, 100), (26, 120), (35, 230), (40, 400), (45, 620), (50, 950), (55, 1230), (60, 1500), (65, 1850), (71.5, 2090), (80, 2100), (83, 2150), (90, 2320), (100, 2700), (110, 3050), (117, 3240), (130, 3250), (155.5, 3260), (160, 3550), (165, 3900), (170, 4200), (175, 4380), (180, 4400), (204, 4400)]
gc_node02 = [(-7, 1740), (4, 1740), (6, 0), (75, 30), (85, 90), (95, 230), (105, 340), (110, 400), (117, 440), (140, 460), (150, 570), (155, 630), (160, 740), (165, 950), (170, 1100), (173, 1200), (175, 1500), (176, 1700), (180, 1850), (185, 2000), (190, 2100), (192, 2300), (193, 2330), (194, 20), (204, 20)]
gc_node03 = [(-7, 420), (4, 420), (6, 0), (120, 5), (135, 30), (145, 100), (150, 250), (155, 420), (204, 420)]
gc_notary = [(-7, 390), (2, 390), (4, 0), (75, 20), (95, 80), (110, 170), (117, 200), (140, 210), (160, 270), (175, 340), (204, 350)]

# Last Garbage Collection Duration (Young Generation), milliseconds
gcd_node01 = [(-7, 120), (4, 120), (5, 125), (17, 125), (18, 25), (21, 30), (26, 60), (27, 85), (29, 60), (35, 60), (38, 35), (45, 33), (60, 38), (70, 40), (71, 25), (75, 75), (90, 70), (110, 50), (111, 100), (115, 95), (118, 110), (122, 85), (135, 88), (136, 105), (145, 105), (146, 122), (155, 122), (155.5, 150), (156, 60), (175, 60), (180, 70), (189, 72), (190, 145), (204, 145)]
gcd_node02 = [(-7, 90), (4, 90), (6, 70), (35, 70), (36, 45), (55, 40), (72, 35), (76, 70), (84, 85), (95, 80), (105, 70), (110, 55), (112, 90), (120, 90), (124, 95), (140, 90), (150, 60), (155, 55), (165, 100), (168, 50), (170, 110), (172, 40), (174, 310), (175, 40), (176, 20), (176.5, 885), (177, 20), (178, 20), (179, 250), (180, 20), (181, 155), (182, 20), (190, 15), (192, 15), (193, 95), (204, 95)]
gcd_node03 = [(-7, 200), (4, 200), (6, 75), (7, 110), (36, 110), (37, 50), (65, 50), (66, 65), (72, 65), (110, 55), (112, 25), (120, 35), (124, 70), (125, 50), (130, 60), (135, 60), (140, 65), (150, 55), (160, 60), (204, 58)]
gcd_notary = [(-7, 65), (2, 65), (5, 125), (7, 75), (35, 70), (57, 68), (58, 215), (71, 215), (72, 30), (80, 45), (90, 35), (95, 45), (110, 35), (118, 30), (125, 40), (133, 40), (136, 60), (140, 30), (160, 30), (204, 32)]

# Heap Memory Used: smooth ends and minute by minute noisy middles, GB
heap_node01_head = [(-7, 20.5), (3.5, 21.5), (6, 1), (16, 1.3), (17, 1.5)]
heap_node01_mid = [13, 6, 14, 4, 15, 10, 14, 13, 9, 2,
                   15, 17, 15, 19, 21, 16, 14, 15, 18, 11, 13, 9, 17,
                   19, 25, 22, 17, 24, 13, 20, 22, 25, 21, 16, 19, 26, 18, 23, 21, 15, 24, 22, 17,
                   22, 20, 24, 16, 21, 19, 27, 22, 14, 19, 21, 20, 25, 17, 22, 19, 12, 20, 18, 22,
                   19, 21, 26, 18, 15, 21, 28, 19, 22, 17, 20, 27, 22, 15, 21, 19, 24, 13, 20, 18,
                   21, 28, 17, 22, 20, 23, 14, 19, 26, 18, 21, 17, 25, 20, 13, 23, 19, 21, 10, 19,
                   22, 16, 21, 25, 18, 13, 20, 27, 21, 19, 15, 22, 18, 25, 20, 16, 23, 19, 12, 21,
                   20, 24, 16, 21, 19, 26, 17, 22, 14, 20, 23, 18, 27, 21, 13, 20, 24, 19, 12, 22,
                   21, 17, 24, 19, 8, 22, 20, 25, 18, 15, 22, 19, 13, 21, 16, 20]
heap_node01_tail = [(177, 15), (180, 17), (184, 26), (187, 29.5), (189, 27), (204, 28.7)]
heap_node02_head = [(-7, 27.7), (3.5, 28.5), (6, 0.8), (25, 1.6), (26, 0.6), (44, 1.7), (45, 0.6), (71, 1.5), (73, 2)]
heap_node02_mid = [5, 8, 4, 13, 7, 10, 9, 6, 14, 8, 11, 16, 13, 10, 18, 21, 15, 19, 23, 17,
                   20, 24, 18, 21, 26, 16, 22, 19, 27, 21, 24, 15, 20, 28, 22, 18, 25, 19, 23, 14,
                   21, 25, 17, 23, 19, 27, 20, 16, 24, 22, 12, 20, 26, 21, 17, 24, 19, 9, 22, 25,
                   18, 22, 27, 20, 16, 23, 19, 25, 13, 21, 24, 18, 26, 20, 15, 22, 19, 25, 12, 21,
                   24, 18, 22, 27, 20, 14, 23, 19, 25, 21, 13, 22, 24, 17, 26, 20, 23, 15, 22]
heap_node02_tail = [(173, 27), (177, 31), (180, 33), (189, 33.3), (190, 1), (191, 18), (204, 19)]
heap_node03_head = [(-7, 11.9), (3.5, 12.5), (6, 0.5), (35, 1.7), (36, 0.4), (64, 1.7), (65, 0.4), (95, 1.7), (96, 0.4), (110, 1), (112, 4)]
heap_node03_mid = [7, 4, 12, 5, 16, 6, 3, 11, 8, 15, 5, 13, 9, 18, 6, 12, 20, 10, 14, 8,
                   17, 11, 21, 8, 15, 24, 13, 19, 10, 22, 16, 26, 12, 20, 17, 23, 14, 25, 19, 16,
                   21, 24]
heap_node03_tail = [(155, 24.2), (204, 28)]
heap_notary_head = [(-7, 6.5), (3.5, 7), (6, 0.5), (7, 1), (29, 1.9), (30, 0.5), (35, 1), (56, 1.9), (57, 0.6), (72, 1.6), (73, 3)]
heap_notary_mid = [6, 12, 9, 14, 5, 11, 15, 8, 13, 10, 7, 15, 12, 16, 9, 13, 6, 14, 11, 16,
                   12, 9, 15, 11, 17, 7, 13, 16, 10, 14, 6, 12, 15, 9, 13, 16, 5, 11, 14, 17,
                   8, 13, 16, 10, 3, 14, 12, 17, 9, 15, 6, 12, 18, 10, 14, 4, 13, 16, 8, 12,
                   17, 11, 14, 6, 13, 9, 19, 12, 15, 7, 14, 10, 17, 5, 13, 16, 9, 12, 18, 11,
                   14, 7, 15, 10, 13, 18, 6, 14, 9, 16, 12, 4, 15, 17, 8, 13, 18, 7, 12]
heap_notary_tail = [(175, 9), (178, 12), (181, 15), (186, 16), (204, 17.4)]

# Non-Heap Memory Used, MB
nonheap_node01 = [(-7, 229), (3.5, 229.5), (5, 160), (6, 140), (7, 145), (16, 153), (17, 183), (20, 183), (21, 200), (25, 200), (35, 203), (50, 205), (60, 205), (61, 203), (70, 204), (72, 222), (80, 223), (90, 226), (100, 226), (150, 225), (180, 228), (186, 230), (204, 231)]
nonheap_node02 = [(-7, 211), (3.5, 212), (5, 150), (6, 142), (7, 146), (20, 152), (40, 158), (60, 161), (71, 163), (72, 207), (80, 209), (95, 212), (125, 212), (170, 213), (188, 213), (189, 100), (190, 197), (204, 198)]
nonheap_node03 = [(-7, 216), (4, 216), (5.5, 150), (7, 145), (20, 151), (40, 157), (60, 161), (72, 162), (110, 163), (111, 200), (123, 200), (124, 210), (140, 214), (170, 216), (204, 216)]
nonheap_notary = [(-7, 198), (2, 199), (3.5, 105), (5, 140), (7, 146), (20, 151), (40, 156), (60, 160), (71, 161), (72, 195), (76, 196), (90, 198), (125, 199), (204, 199)]

# Committed Virtual Memory Size, GB
virt_node01 = [(-7, 65), (3, 65), (5, 54), (16, 54), (17, 65), (204, 65)]
virt_node02 = [(-7, 64), (3, 64), (5, 53), (71, 54), (72, 65), (189, 65), (190, 47), (191, 65), (204, 65)]
virt_node03 = [(-7, 64.5), (3, 64.5), (5, 54), (110, 54), (111, 65), (204, 65)]
virt_notary = [(-7, 65), (2, 65), (3, 45), (5, 54), (71, 53), (72, 65), (204, 65)]

# Disk Read Rate, kB/s
dread_node01 = [(-7, 0), (-1, 0), (0, 3.8), (2, 0), (3, 2.65), (4, 0), (26, 0), (27, 0.6), (28, 0), (134, 0), (135, 0.75), (136, 0), (189, 0), (190, 0.85), (191, 0), (204, 0)]
dread_node02 = [(-7, 0), (-1, 0), (0, 2.1), (2, 0.2), (3, 1.7), (4, 0), (193, 0), (194, 0.6), (195, 0), (204, 0)]
dread_node03 = [(-7, 0), (-1, 0), (0, 3), (1, 0.6), (2, 0.5), (3, 0.9), (5, 0), (5.5, 1.25), (7, 0), (17, 0), (18, 0.42), (19, 0), (25, 0), (26, 0.55), (27, 0), (180, 0), (181, 0.07), (182, 0), (204, 0)]
dread_notary = [(-7, 0), (-1, 0), (0, 1.8), (1, 1.2), (2, 0.9), (3, 0.8), (4, 0), (15, 0), (15.5, 0.9), (16.5, 0), (75, 0), (75.5, 0.6), (77, 0), (134, 0), (135, 0.6), (136, 0), (193, 0), (194, 0.6), (195, 0), (204, 0)]

# Total Memory Used %
mempct_node01 = [(-7, 16.2), (3, 16), (4, 3), (5, 1), (7, 2.5), (17, 2.5), (17.5, 10.2), (30, 10.4), (31, 11.5), (47, 11.7), (60, 13.5), (74, 14), (96, 15), (149, 15.8), (204, 15.8)]
mempct_node02 = [(-7, 15), (3, 15), (4, 1), (5, 0.8), (7, 2.5), (74, 2.7), (75, 6.5), (77, 7), (78, 10), (82, 10.2), (90, 11), (100, 13), (110, 14.5), (125, 14.7), (190, 15.2), (191, 2), (192, 12), (204, 12)]
mempct_node03 = [(-7, 16), (3, 16), (4, 3), (5, 3), (6, 3.8), (7, 3.2), (9, 3.7), (17, 3.7), (18, 4), (110, 4), (113, 6), (115, 9), (118, 12), (140, 13), (150, 14), (155, 15.5), (204, 15.5)]
mempct_notary = [(-7, 17.5), (1, 17.5), (2, 17), (3, 7), (4, 6.5), (5, 7), (6, 8), (17, 8), (18, 8.5), (74, 8.5), (77, 10), (79, 15), (82, 15.8), (204, 16.5)]

# Total Memory Used, GB
memgb_node01 = [(-7, 44), (3, 43), (4, 8), (5, 3), (7, 7), (17, 7), (17.5, 28), (30, 28), (31, 31), (47, 32), (60, 37), (74, 38), (96, 41), (149, 43), (204, 43)]
memgb_node02 = [(-7, 41), (3, 41), (4, 3), (5, 2), (7, 7), (74, 7), (75, 18), (77, 19), (78, 27), (82, 28), (90, 30), (100, 35), (110, 39), (125, 40), (190, 41), (191, 5), (192, 33), (204, 33)]
memgb_node03 = [(-7, 43), (3, 43), (4, 8), (5, 8), (6, 10), (7, 9), (9, 10), (17, 10), (18, 11), (110, 11), (113, 16), (115, 24), (118, 33), (140, 35), (150, 38), (155, 42), (204, 42)]
memgb_notary = [(-7, 47), (1, 47), (2, 46), (3, 19), (4, 18), (5, 19), (6, 22), (17, 22), (18, 23), (74, 23), (77, 27), (79, 41), (82, 43), (204, 45)]

hour_ticks = [0, 60, 120, 180]
hour_labels = ['04:00', '05:00', '06:00', '07:00']
half_ticks = [0, 30, 60, 90, 120, 150, 180]
half_labels = ['04:00', '04:30', '05:00', '05:30', '06:00', '06:30', '07:00']

fig = plt.figure(figsize=(W / 100, H / 100), dpi=100, facecolor='#0b0c0e')
bg = fig.add_axes([0, 0, 1, 1], zorder=0)
bg.set_xlim(0, W)
bg.set_ylim(H, 0)
bg.axis('off')


def box(x0, y0, x1, y1):
    bg.add_patch(FancyBboxPatch((x0 * S, y0 * S), (x1 - x0) * S, (y1 - y0) * S,
                                boxstyle='round,pad=0,rounding_size=3',
                                fc='#141619', ec='#202226', lw=1))


def band(x0, x1, y0, y1, text):
    box(x0, y0, x1, y1)
    bg.text(((x0 + x1) / 2 - 7) * S, ((y0 + y1) / 2 + 0.8) * S, text, color='#d8d9da', fontsize=11.6,
            fontweight='bold', ha='center', va='center')


def section(y, text):
    xs = [4 * S, 6.5 * S, 9 * S]
    ys = [(y - 1.5) * S, (y + 1) * S, (y - 1.5) * S]
    bg.plot(xs, ys, color='#d8d9da', lw=1)
    bg.text(13 * S, (y + 0.8) * S, text, color='#d8d9da', fontsize=13.8, fontweight='bold', va='center')


def panel(px, plot_x, row, title, yticks, ylabels, ylim, series, wide=False,
          limit=None, info=False, legend=True):
    top, bottom, ptop, pbottom = row
    box(px[0], top, px[1], bottom)
    bg.text(((px[0] + px[1]) / 2 - 7) * S, (top + 13) * S, title, color='#d8d9da', fontsize=11.8,
            fontweight='bold', ha='center', va='center')
    if info:
        bg.add_patch(Polygon([(px[0] * S + 1, top * S + 1), (px[0] * S + 35, top * S + 1), (px[0] * S + 1, top * S + 40)],
                             fc='#26282c', ec='none'))
        bg.text(px[0] * S + 12, top * S + 13, 'i', color='#8e8e8e', fontsize=11, fontweight='bold',
                ha='center', va='center')
    if px[0] > 0:
        bg.plot([(px[1] * S) - 11] * 2, [bottom * S - 35, bottom * S - 11], color='black', lw=0.7)

    ax = fig.add_axes([plot_x[0] * S / W, 1 - pbottom * S / H,
                       (plot_x[1] - plot_x[0]) * S / W, (pbottom - ptop) * S / H], zorder=1)
    ax.patch.set_alpha(0)
    for sp in ax.spines.values():
        sp.set_visible(False)
    ax.set_xlim(-6.6, 204)
    ax.set_ylim(*ylim)
    ax.set_xticks(half_ticks if wide else hour_ticks, half_labels if wide else hour_labels)
    ax.set_yticks(yticks, ylabels)
    ax.tick_params(length=0, labelsize=11, labelcolor='#c7d0d9')
    ax.tick_params(axis='y', pad=5)
    ax.tick_params(axis='x', pad=9)
    ax.grid(True, color='white', alpha=0.13, lw=1)
    ax.set_axisbelow(True)
    for (t, v), color in zip(series, colors):
        assert len(t) == len(v), title
        ax.fill_between(t, v, ylim[0], color=color, alpha=0.1, lw=0)
        ax.plot(t, v, color=color, lw=1.0, solid_joinstyle='round')
    if limit is not None:
        ax.axhline(limit, color='#b5332a', lw=2, clip_on=False, zorder=5)
    if legend:
        ly = (bottom - 14) * S
        for off, name, color in zip([27, 111, 195, 279], names, colors):
            bg.plot([px[0] * S + off, px[0] * S + off + 14], [ly, ly], color=color, lw=1.3)
            bg.text(px[0] * S + off + 21, ly + 2, name, color='#c7d0d9', fontsize=10.7, va='center')
    return ax


def pairs(data):
    return [p[0] for p in data], [p[1] for p in data]


def load(values):
    return load_t, values


def heap(head, mid, start, tail):
    pts = head + [(start + i, v) for i, v in enumerate(mid)] + tail
    return pairs(pts)


section(10, 'JVM Metrics')
section(545, 'System Metrics')
band(0, 779, 27, 49, 'General')
band(785, 1562, 27, 49, 'Garbage Collector')
band(0, 779, 281, 303, 'CPU')
band(785, 1562, 281, 303, 'Memory')
band(0, 779, 562, 585, 'Disk')
band(785, 1562, 562, 585, 'Network')
band(0, 779, 815, 838, 'CPU')
band(785, 1562, 815, 838, 'Memory')

row1 = (55, 275, 89, 230)
row2 = (308, 528, 343, 484)
row3 = (590, 810, 625, 766)
row4 = (844, 1063, 878, 1019)

panel((0, 257), (37, 238), row1, 'Loaded Class Count',
      [12000, 14000, 16000, 18000, 20000, 22000], ['12000', '14000', '16000', '18000', '20000', '22000'], (12000, 22000),
      [pairs(classes_node01), pairs(classes_node02), pairs(classes_node03), pairs(classes_notary)])
panel((262, 518), (293, 498), row1, 'Thread Count',
      [0, 250, 500, 750, 1000, 1250], ['0', '250', '500', '750', '1000', '1250'], (0, 1250),
      [pairs(threads_node01), pairs(threads_node02), pairs(threads_node03), pairs(threads_notary)])
panel((523, 779), (554, 759), row1, 'Open File Descriptor Count',
      [0, 1000, 2000, 3000, 4000], ['0', '1000', '2000', '3000', '4000'], (0, 4000),
      [pairs(fds_node01), pairs(fds_node02), pairs(fds_node03), pairs(fds_notary)])
panel((785, 1170), (817, 1151), row1, 'Garbage Collections (Young Generation)',
      [0, 1000, 2000, 3000, 4000, 5000, 6000], ['0', '1000', '2000', '3000', '4000', '5000', '6000'], (0, 6000),
      [pairs(gc_node01), pairs(gc_node02), pairs(gc_node03), pairs(gc_notary)], wide=True)
panel((1176, 1562), (1217, 1542), row1, 'Last Garbage Collection Duration (Young Generation)',
      [0, 200, 400, 600, 800, 1000], ['0 ms', '200 ms', '400 ms', '600 ms', '800 ms', '1.0 s'], (0, 1000),
      [pairs(gcd_node01), pairs(gcd_node02), pairs(gcd_node03), pairs(gcd_notary)], wide=True)

pct_ticks = [0, 20, 40, 60, 80, 100]
pct1_labels = ['0%', '20.0%', '40.0%', '60.0%', '80.0%', '100.0%']
pct0_labels = ['0%', '20%', '40%', '60%', '80%', '100%']

panel((0, 257), (40, 238), row2, 'System (Total) CPU Load', pct_ticks, pct1_labels, (0, 100),
      [load(sysload_node01), load(sysload_node02), load(sysload_node03), load(sysload_notary)], limit=100)
panel((262, 518), (301, 498), row2, 'Process (JVM) CPU Load', pct_ticks, pct1_labels, (0, 100),
      [load(jvmload_node01), load(jvmload_node02), load(jvmload_node03), load(jvmload_notary)])
panel((523, 779), (562, 759), row2, 'System (OS Only) CPU Load', pct_ticks, pct1_labels, (0, 100),
      [load(osload_node01), load(osload_node02), load(osload_node03), load(osload_notary)])
panel((785, 1040), (819, 1021), row2, 'Heap Memory Used', [0, 10, 20, 30], ['0 B', '10 GB', '20 GB', '30 GB'], (0, 34.1),
      [heap(heap_node01_head, heap_node01_mid, 18, heap_node01_tail),
       heap(heap_node02_head, heap_node02_mid, 74, heap_node02_tail),
       heap(heap_node03_head, heap_node03_mid, 113, heap_node03_tail),
       heap(heap_notary_head, heap_notary_mid, 74, heap_notary_tail)], limit=34.1, info=True)
panel((1045, 1301), (1087, 1282), row2, 'Non-Heap Memory Used',
      [50, 100, 150, 200, 250], ['50 MB', '100 MB', '150 MB', '200 MB', '250 MB'], (50, 250),
      [pairs(nonheap_node01), pairs(nonheap_node02), pairs(nonheap_node03), pairs(nonheap_notary)])
panel((1306, 1562), (1342, 1542), row2, 'Committted Virtual Memory Size',
      [0, 20, 40, 60, 80], ['0 B', '20 GB', '40 GB', '60 GB', '80 GB'], (0, 80),
      [pairs(virt_node01), pairs(virt_node02), pairs(virt_node03), pairs(virt_notary)])

panel((0, 257), (43, 238), row3, 'Disk Read Rate',
      [0, 1, 2, 3, 4], ['0 B/s', '1.0 kB/s', '2.0 kB/s', '3.0 kB/s', '4.0 kB/s'], (0, 4),
      [pairs(dread_node01), pairs(dread_node02), pairs(dread_node03), pairs(dread_notary)], info=True)
panel((262, 518), (303, 498), row3, 'Disk Write Rate',
      [0, 2, 4, 6, 8], ['0 B/s', '2 MB/s', '4 MB/s', '6 MB/s', '8 MB/s'], (0, 8),
      [load(dwrite_node01), load(dwrite_node02), load(dwrite_node03), load(dwrite_notary)], info=True)
used = panel((523, 779), (556, 759), (590, 810, 625, 781), 'Used Space %', pct_ticks, pct0_labels, (0, 100),
             [], limit=100, legend=False)
used.text(0.47, 0.6, 'No data', transform=used.transAxes, color='#c7d0d9', fontsize=13,
          ha='center', va='center')
panel((785, 1040), (830, 1021), row3, 'Download Rate',
      [0, 10, 20, 30, 40], ['0 B/s', '10 MB/s', '20 MB/s', '30 MB/s', '40 MB/s'], (0, 40),
      [load(down_node01), load(down_node02), load(down_node03), load(down_notary)])
panel((1045, 1301), (1095, 1282), row3, 'Upload Rate',
      [0, 20, 40, 60, 80, 100], ['0 B/s', '20 MB/s', '40 MB/s', '60 MB/s', '80 MB/s', '100 MB/s'], (0, 100),
      [load(up_node01), load(up_node02), load(up_node03), load(up_notary)])
panel((1306, 1562), (1356, 1542), row3, 'Total Network Rate',
      [0, 25, 50, 75, 100, 125], ['0 B/s', '25 MB/s', '50 MB/s', '75 MB/s', '100 MB/s', '125 MB/s'], (0, 125),
      [load(net_node01), load(net_node02), load(net_node03), load(net_notary)], info=True)

panel((0, 257), (33, 238), row4, 'Total CPU Usage', pct_ticks, pct0_labels, (0, 100),
      [load(totcpu_node01), load(totcpu_node02), load(totcpu_node03), load(totcpu_notary)], limit=100)
panel((262, 518), (286, 498), row4, 'System CPU Usage', [0, 2, 4, 6, 8], ['0%', '2%', '4%', '6%', '8%'], (0, 8),
      [load(syscpu_node01), load(syscpu_node02), load(syscpu_node03), load(syscpu_notary)])
panel((523, 779), (556, 759), row4, 'User CPU Usage', pct_ticks, pct0_labels, (0, 100),
      [load(usrcpu_node01), load(usrcpu_node02), load(usrcpu_node03), load(usrcpu_notary)], limit=100)
panel((785, 1170), (817, 1151), row4, 'Total Memory Used %', pct_ticks, pct0_labels, (0, 100),
      [pairs(mempct_node01), pairs(mempct_node02), pairs(mempct_node03), pairs(mempct_notary)], wide=True, limit=100)
panel((1176, 1562), (1217, 1542), row4, 'Total Memory Used',
      [0, 50, 100, 150, 200, 250], ['0 B', '50 GB', '100 GB', '150 GB', '200 GB', '250 GB'], (0, 271),
      [pairs(memgb_node01), pairs(memgb_node02), pairs(memgb_node03), pairs(memgb_notary)], wide=True, limit=271, info=True)

fig.savefig('out.png', dpi=100, facecolor=fig.get_facecolor())
